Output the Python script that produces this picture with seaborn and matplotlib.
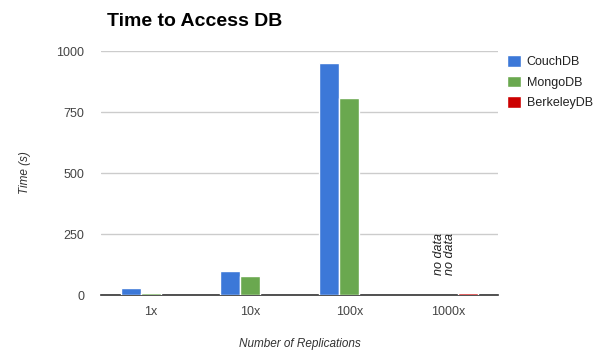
"""Time to access DB by number of replications, grouped bars per database."""

import matplotlib
matplotlib.use("Agg")
import matplotlib.pyplot as plt
import pandas as pd
import seaborn as sns

REPLICATIONS = ["1x", "10x", "100x", "1000x"]
DATABASES = ["CouchDB", "MongoDB", "BerkeleyDB"]
COUCHDB_TIME = [28, 97, 952, None]
MONGODB_TIME = [10, 80, 807, None]
BERKELEYDB_TIME = [None, None, None, 8]
COLORS = ["#3c78d8", "#6aa84f", "#cc0000"]


def main() -> None:
    rows = []
    for db, values in zip(DATABASES, [COUCHDB_TIME, MONGODB_TIME, BERKELEYDB_TIME]):
        for rep, val in zip(REPLICATIONS, values):
            rows.append({"replications": rep, "database": db, "time": val})
    df = pd.DataFrame(rows)

    sns.set_theme(style="white")
    plt.rcParams["font.family"] = ["Liberation Sans", "DejaVu Sans"]

    fig = plt.figure(figsize=(5.98, 3.5), dpi=100)
    ax = fig.add_axes([0.169, 0.157, 0.664, 0.697])
    sns.barplot(data=df, x="replications", y="time", hue="database",
                order=REPLICATIONS, hue_order=DATABASES, palette=COLORS,
                width=0.6, saturation=1, errorbar=None, ax=ax, zorder=3)

    ax.set_ylim(0, 1000)
    ax.set_xlim(-0.5, 3.5)
    ax.set_yticks([0, 250, 500, 750, 1000])
    ax.yaxis.grid(True, color="#cccccc", linewidth=1.0, zorder=0)
    for side in ["left", "right", "top"]:
        ax.spines[side].set_visible(False)
    ax.spines["bottom"].set_color("#333333")
    ax.spines["bottom"].set_linewidth(1.2)
    ax.spines["bottom"].set_zorder(2)
    ax.tick_params(axis="both", length=0, labelsize=9, colors="#444444")
    ax.tick_params(axis="y", pad=12)
    ax.tick_params(axis="x", pad=8)

    ax.set_xlabel("Number of Replications", fontsize=8.5, style="italic",
                  color="#333333", labelpad=14)
    ax.set_ylabel("Time (s)", fontsize=8.5, style="italic", color="#333333",
                  labelpad=18)

    # missing-value annotations for the 1000x group
    for dx in [-0.1, 0.02]:
        ax.text(3 + dx, 82, "no data", rotation=90, style="italic",
                fontsize=9, color="#222222", ha="center", va="bottom")

    fig.text(0.179, 0.94, "Time to Access DB", fontsize=14, fontweight="bold",
             color="#000000", ha="left", va="center")

    ax.legend(loc="upper left", bbox_to_anchor=(0.995, 1.03), frameon=False,
              fontsize=9, handlelength=1.05, handleheight=1.05,
              handletextpad=0.5, labelspacing=0.6, labelcolor="#222222")

    fig.savefig("out.png", dpi=100)


if __name__ == "__main__":
    main()
